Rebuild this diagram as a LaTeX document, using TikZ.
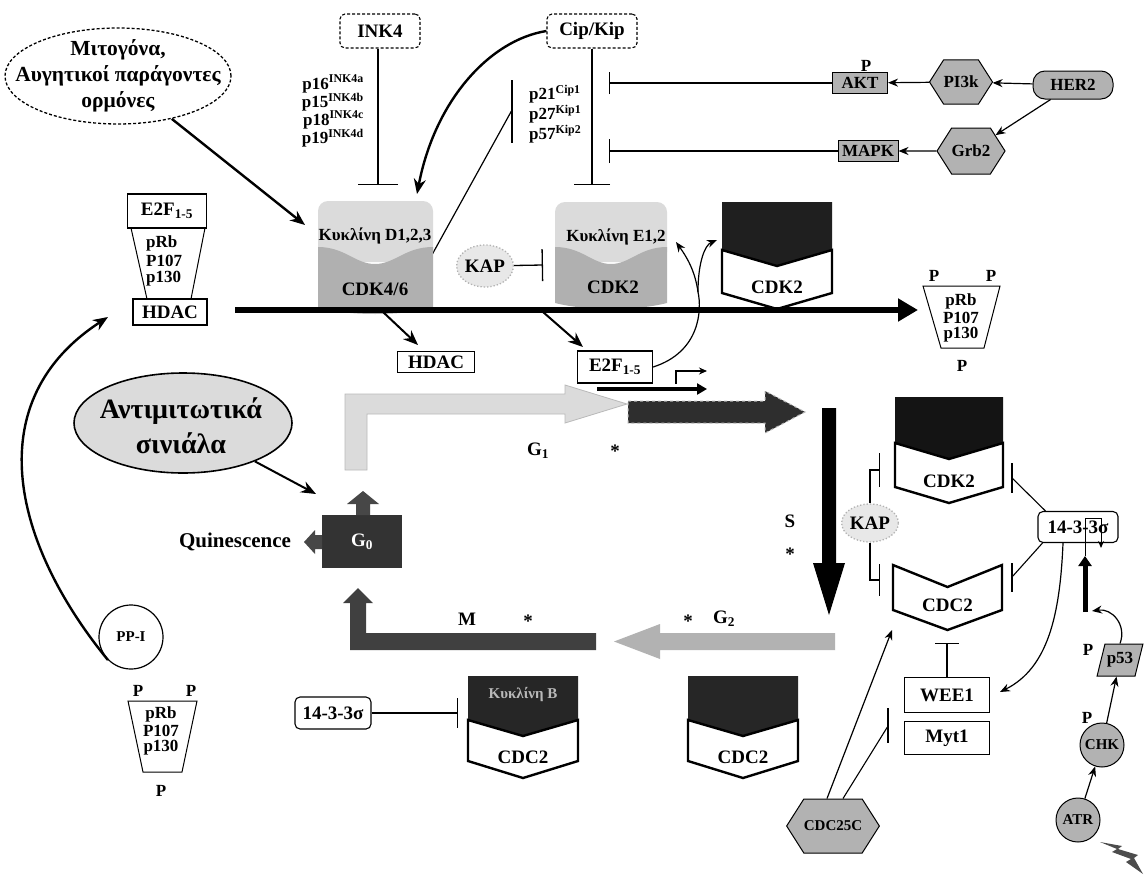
\documentclass[tikz,border=0pt]{standalone}
\usepackage{fontspec}
\setmainfont{Liberation Serif}
\usetikzlibrary{arrows.meta,shapes.geometric,shapes.symbols,calc}
\begin{document}
\begin{tikzpicture}[x=1pt,y=-1pt,
  txt/.style={font=\bfseries\fontsize{19}{21}\selectfont, inner sep=0pt},
  med/.style={font=\bfseries\fontsize{17}{19}\selectfont, inner sep=0pt},
  sml/.style={font=\bfseries\fontsize{15}{17}\selectfont, inner sep=0pt},
  wbox/.style={draw, line width=1.3pt, fill=white, txt},
  rbox/.style={draw, line width=1.1pt, rounded corners=5pt, fill=white, txt},
  darknode/.style={fill=gray!60, draw=black, line width=1pt, med},
  hexa/.style={darknode, signal, signal to=east and west, signal pointer angle=115},
  kapnode/.style={ellipse, draw=gray!60, dotted, line width=1.3pt, fill=gray!18, txt},
  arr/.style={line width=2.4pt, -{Stealth[length=15pt,width=12pt]}},
  tarr/.style={line width=1.2pt, -{Stealth[length=10pt,width=8pt]}},
  inh/.style={line width=1.3pt, -{Bar[width=#1]}},
  ln/.style={line width=1.2pt},
  chevw/.style={line width=2.4pt, fill=white, line join=miter},
  lightfill/.style={fill=gray!28, draw=gray!55, line width=0.8pt},
]
\useasboundingbox (0,0) rectangle (1145,875);
\fill[white] (0,0) rectangle (1145,875);

% ---------------- top: mitogens, INK4, Cip/Kip ----------------
\node[ellipse, draw, densely dashed, line width=1.3pt, minimum width=226pt, minimum height=96pt] (mito) at (118,76) {};
\node[align=center, font=\bfseries\fontsize{21.5}{26}\selectfont] (mitot) at (mito) {Μιτογόνα,\\Αυγητικοί παράγοντες\\ορμόνες};
\coordinate (mitotip) at (305,225);
\draw[arr] (mito) -- (mitotip);

\node[rbox, densely dashed, minimum width=80pt, minimum height=34pt] (ink4) at (380,31) {INK4};
\coordinate (ink4bar) at (378,185);
\draw[inh=40pt] (ink4.south -| ink4bar) -- (ink4bar);
\node[med, anchor=east] (p16) at (364,84) {p16\textsuperscript{INK4a}};
\node[med, anchor=east] (p15) at (364,102) {p15\textsuperscript{INK4b}};
\node[med, anchor=east] (p18) at (364,120) {p18\textsuperscript{INK4c}};
\node[med, anchor=east] (p19) at (364,138) {p19\textsuperscript{INK4d}};

\node[rbox, densely dashed, minimum width=90pt, minimum height=34pt] (cip) at (592,31) {Cip/Kip};
\coordinate (cipbar) at (592,185);
\draw[inh=36pt] (cip) -- (cipbar);
\node[med, anchor=west] (p21) at (529,94) {p21\textsuperscript{Cip1}};
\node[med, anchor=west] (p27) at (529,114) {p27\textsuperscript{Kip1}};
\node[med, anchor=west] (p57) at (529,134) {p57\textsuperscript{Kip2}};
\coordinate (ciptip) at (417,194);
\draw[arr] (cip.west) .. controls (490,40) and (435,100) .. (ciptip);
\coordinate (seqA) at (512,80);
\coordinate (seqB) at (512,143);
\coordinate (seqM) at (512,110);
\coordinate (cdkDne) at (428,262);
\draw[ln] (seqA) -- (seqB);
\draw[ln] (cdkDne) -- (seqM);

% ---------------- HER2 pathway ----------------
\node[darknode, minimum width=55pt, minimum height=21pt] (akt) at (860,83) {AKT};
\node[med] (aktP) at (866,66) {P};
\node[hexa, minimum width=54pt, minimum height=44pt] (pi3k) at (961,82) {PI3k};
\node[darknode, rounded corners=12pt, minimum width=80pt, minimum height=28pt] (her2) at (1073,85) {HER2};
\node[hexa, minimum width=54pt, minimum height=46pt] (grb2) at (971,151) {Grb2};
\node[darknode, minimum width=60pt, minimum height=21pt] (mapk) at (868,151) {MAPK};
\draw[tarr] (pi3k) -- (akt);
\draw[tarr] (her2) -- (pi3k);
\draw[tarr] (her2) -- (grb2);
\draw[tarr] (grb2) -- (mapk);
\coordinate (aktbar) at (609,83);
\coordinate (mapkbar) at (609,151);
\draw[inh=22pt] (akt) -- (aktbar);
\draw[inh=24pt] (mapk) -- (mapkbar);

% ---------------- left E2F / pRb / HDAC ----------------
\node[wbox, minimum width=79pt, minimum height=34pt] (e2f) at (167,211) {E2F\textsubscript{1-5}};
\node[wbox, minimum width=74pt, minimum height=26pt] (hdac) at (170,312) {HDAC};
\draw[line width=1pt] (131,228) -- (147,299);
\draw[line width=1pt] (205,228) -- (191,299);
\node[med, anchor=west] (rb1) at (146,243) {pRb};
\node[med, anchor=west] (rb2) at (146,261) {P107};
\node[med, anchor=west] (rb3) at (146,279) {p130};

% ---------------- cyclin D / CDK4/6 ----------------
\fill[gray!28, rounded corners=10pt] (318,262) -- (318,201) -- (433,201) -- (433,262) -- cycle;
\fill[gray!62] (318,247) .. controls (345,247) and (355,264) .. (375,264) .. controls (395,264) and (405,247) .. (433,247) -- (433,308) .. controls (400,316) and (350,316) .. (318,308) -- cycle;
\node[med] (cycD) at (375,236) {Κυκλίνη D1,2,3};
\node[txt] (cdk46) at (375,289) {CDK4/6};

% ---------------- KAP, cyclin E / CDK2 ----------------
\node[kapnode, minimum width=54pt, minimum height=42pt] (kap1) at (485,266) {KAP};
\coordinate (kapbar1) at (543,265);
\draw[inh=32pt] (kap1) -- (kapbar1);
\fill[gray!28, rounded corners=10pt] (555,262) -- (555,202) -- (667,202) -- (667,262) -- cycle;
\fill[gray!62] (555,247) .. controls (582,247) and (592,264) .. (611,264) .. controls (630,264) and (640,247) .. (667,247) -- (667,303) .. controls (635,311) and (587,311) .. (555,303) -- cycle;
\node[med] (cycE) at (616,237) {Κυκλίνη E1,2};
\node[txt] (cdk2e) at (613,287) {CDK2};

% ---------------- cyclin A / CDK2 (top) ----------------
\fill[black!88] (722,202) -- (832,202) -- (832,250) -- (777,266) -- (722,250) -- cycle;
\draw[chevw] (722,250) -- (777,266) -- (832,250) -- (832,293) -- (777,309) -- (722,293) -- cycle;
\node[txt] (cdk2a) at (777,287) {CDK2};

% ---------------- main arrow ----------------
\coordinate (mainS) at (235,310);
\coordinate (mainE) at (918,310);
\draw[line width=6pt, -{Triangle[length=20pt,width=22pt]}] (mainS) -- (mainE);

% right phosphorylated pRb
\draw[line width=1pt] (923,286) -- (1000,286) -- (984,348) -- (941,348) -- cycle;
\node[med] (rPa) at (934,276) {P};
\node[med] (rPb) at (991,276) {P};
\node[med] (rrb1) at (961,301) {pRb};
\node[med] (rrb2) at (961,318) {P107};
\node[med] (rrb3) at (961,335) {p130};
\node[med] (rPc) at (962,366) {P};

% branches
\node[wbox, minimum width=77pt, minimum height=21pt] (hdac2) at (436,362) {HDAC};
\coordinate (br1) at (383,312);
\coordinate (hdac2tip) at (418,345);
\draw[arr, line width=2pt] (br1) -- (hdac2tip);
\node[wbox, minimum width=75pt, minimum height=32pt] (e2f2) at (615,367) {E2F\textsubscript{1-5}};
\coordinate (br2) at (543,312);
\coordinate (e2f2tip) at (583,347);
\draw[arr, line width=2pt] (br2) -- (e2f2tip);
\coordinate (cycEtip) at (676,242);
\coordinate (cycAtip) at (717,240);
\coordinate (split) at (698,292);
\draw[tarr] (e2f2.east) .. controls (700,352) and (702,310) .. (split) .. controls (695,270) and (686,256) .. (cycEtip);
\draw[tarr] (split) .. controls (698,262) and (705,245) .. (cycAtip);
\coordinate (promA) at (597,389);
\coordinate (promB) at (707,389);
\draw[line width=4.5pt, -{Triangle[length=10pt,width=11pt]}] (promA) -- (promB);
\coordinate (bendA) at (676,384);
\coordinate (bendB) at (707,371);
\draw[line width=1.2pt, -{Stealth[length=8pt,width=7pt]}] (bendA) |- (bendB);

% ---------------- cell cycle arrows ----------------
\filldraw[lightfill] (345,470) -- (345,394) -- (565,394) -- (565,385) -- (627,404) -- (565,423) -- (565,414) -- (367,414) -- (367,470) -- cycle;
\filldraw[fill=black!82, draw=gray!55, dashed, line width=1pt] (628,401) -- (765,401) -- (765,391) -- (805,412) -- (765,433) -- (765,423) -- (628,423) -- cycle;
\node[txt] (g1lab) at (538,451) {G\textsubscript{1}};
\node[txt] (g1star) at (615,451) {*};

\fill[black] (822,408) -- (836,408) -- (836,563) -- (845,563) -- (829,615) -- (813,563) -- (822,563) -- cycle;
\node[txt] (slab) at (790,521) {S};
\node[txt] (sstar) at (790,554) {*};

\fill[gray!60] (835,633) -- (660,633) -- (660,624) -- (614,641.5) -- (660,659) -- (660,650) -- (835,650) -- cycle;
\node[txt] (g2star) at (688,621) {*};
\node[txt] (g2lab) at (724,619) {G\textsubscript{2}};

\fill[black!75] (596,633) -- (596,650) -- (350,650) -- (350,603) -- (343,603) -- (358,588) -- (373,603) -- (366,603) -- (366,633) -- cycle;
\node[txt] (mlab) at (467,619) {M};
\node[txt] (mstar) at (528,621) {*};

% G0
\fill[black!80] (322,515) rectangle (402,568);
\fill[black!72] (356,515) -- (356,504) -- (347,504) -- (363,491) -- (379,504) -- (370,504) -- (370,515) -- cycle;
\fill[black!72] (322,535) -- (315,535) -- (315,530) -- (304,542) -- (315,554) -- (315,549) -- (322,549) -- cycle;
\node[txt, text=white] (g0) at (362,542) {G\textsubscript{0}};
\node[font=\bfseries\fontsize{21}{23}\selectfont] (quin) at (235,542) {Quinescence};

% antimitotic
\node[ellipse, draw, line width=1.6pt, fill=gray!28, minimum width=218pt, minimum height=100pt] (anti) at (183,423) {};
\node[align=center, font=\bfseries\fontsize{28}{35}\selectfont] (antit) at (181,426) {Αντιμιτωτικά\\σινιάλα};
\coordinate (antitip) at (316,494);
\draw[arr, line width=2pt] (anti) -- (antitip);

% PP-I
\node[circle, draw, line width=1.2pt, minimum size=64pt, sml] (ppi) at (131,637) {PP-I};
\coordinate (ppitip) at (108,317);
\draw[arr] (ppi.south west) .. controls (10,540) and (-20,400) .. (ppitip);

% bottom phosphorylated pRb
\draw[line width=1pt] (128,701) -- (197,701) -- (182,772) -- (143,772) -- cycle;
\node[med] (bPa) at (138,691) {P};
\node[med] (bPb) at (191,691) {P};
\node[med] (brb1) at (161,714) {pRb};
\node[med] (brb2) at (161,731) {P107};
\node[med] (brb3) at (161,748) {p130};
\node[med] (bPc) at (161,791) {P};

% bottom 14-3-3 and CDC2 blocks
\node[rbox, minimum width=76pt, minimum height=32pt] (s1433b) at (333,713) {14-3-3σ};
\coordinate (s1433bbar) at (458,713);
\draw[inh=30pt] (s1433b) -- (s1433bbar);

\fill[black!85] (468,676) -- (578,676) -- (578,720) -- (523,736) -- (468,720) -- cycle;
\node[sml, text=gray!55] (cycB) at (523,695) {Κυκλίνη B};
\draw[chevw] (468,720) -- (523,736) -- (578,720) -- (578,761) -- (523,778) -- (468,761) -- cycle;
\node[txt] (cdc2b) at (523,757) {CDC2};

\fill[black!85] (688,676) -- (798,676) -- (798,720) -- (743,736) -- (688,720) -- cycle;
\draw[chevw] (688,720) -- (743,736) -- (798,720) -- (798,761) -- (743,778) -- (688,761) -- cycle;
\node[txt] (cdc2c) at (743,757) {CDC2};

% ---------------- right side ----------------
\fill[black!92] (895,397) -- (1003,397) -- (1003,443) -- (949,459) -- (895,443) -- cycle;
\draw[chevw] (895,443) -- (949,459) -- (1003,443) -- (1003,487) -- (949,503) -- (895,487) -- cycle;
\node[txt] (cdk2r) at (949,481) {CDK2};

\draw[chevw] (893,565) -- (947.5,587) -- (1002,565) -- (1002,610) -- (947.5,630) -- (893,610) -- cycle;
\node[txt] (cdc2r) at (947.5,605) {CDC2};

\node[kapnode, minimum width=48pt, minimum height=38pt] (kap2) at (870,523) {KAP};
\coordinate (kb1) at (880,470);
\coordinate (kb2) at (880,580);
\draw[line width=1.1pt, -{Bar[width=34pt]}] (kap2.north) |- (kb1);
\draw[line width=1.1pt, -{Bar[width=32pt]}] (kap2.south) |- (kb2);

\node[rbox, minimum width=80pt, minimum height=31pt] (s1433) at (1078,527) {14-3-3σ};
\coordinate (ib1a) at (1012,463);
\coordinate (ib1b) at (1012,493);
\coordinate (ib1m) at (1012,478);
\coordinate (ib2a) at (1012,563);
\coordinate (ib2b) at (1012,592);
\coordinate (ib2m) at (1012,577);
\draw[line width=1.1pt] (ib1a) -- (ib1b);
\draw[line width=1.1pt] (ib2a) -- (ib2b);
\draw[line width=1.1pt] ($(s1433.north west)+(8,0)$) -- (ib1m);
\draw[line width=1.1pt] ($(s1433.south west)+(5,0)$) -- (ib2m);

\coordinate (thickB) at (1085,612);
\coordinate (thickT) at (1085,556);
\draw[line width=5pt, -{Triangle[length=10pt,width=13pt]}] (thickB) -- (thickT);
\coordinate (inA) at (1085,518);
\coordinate (inB) at (1101,548);
\draw[line width=1pt, -{Stealth[length=7pt,width=6pt]}] (thickT) -- (inA) -| (inB);

\node[wbox, minimum width=85pt, minimum height=35pt] (wee1) at (947,695) {WEE1};
\node[wbox, minimum width=85pt, minimum height=33pt] (myt1) at (947,738) {Myt1};
\coordinate (weetip) at (1000,692);
\draw[tarr] ($(s1433.south)+(-15,0)$) .. controls (1060,615) and (1048,668) .. (weetip);
\coordinate (weebar) at (947,643);
\draw[inh=24pt] (wee1.north) -- (weebar);

\node[hexa, minimum width=88pt, minimum height=54pt, sml] (cdc25c) at (833,826) {CDC25C};
\coordinate (c25tip) at (892,630);
\draw[tarr] ($(cdc25c.north)+(-6,0)$) -- (c25tip);
\coordinate (c25bar) at (888,726);
\coordinate (c25barA) at (888,708);
\coordinate (c25barB) at (888,743);
\draw[line width=1.1pt] ($(cdc25c.north)+(10,0)$) -- (c25bar);
\draw[line width=1.1pt] (c25barA) -- (c25barB);

\node[darknode, trapezium, trapezium left angle=65, trapezium right angle=115, trapezium stretches=true, minimum width=46pt, minimum height=32pt] (p53) at (1120,660) {p53};
\node[med] (p53P) at (1088,650) {P};
\node[darknode, circle, minimum size=44pt, sml] (chk) at (1102,745) {CHK};
\node[med] (chkP) at (1087,718) {P};
\node[darknode, circle, minimum size=44pt, sml] (atr) at (1078,820) {ATR};
\draw[tarr] (chk) -- (p53);
\draw[tarr] (atr) -- (chk);
\coordinate (p53tip) at (1092,611);
\draw[tarr] (p53.north) .. controls (1127,625) and (1112,608) .. (p53tip);
\fill[black!70] (1143,874) -- (1126,862) -- (1131,859) -- (1112,852) -- (1117,849) -- (1100,842) -- (1122,846) -- (1118,849) -- (1138,855) -- (1134,858) -- cycle;
\end{tikzpicture}
\end{document}
